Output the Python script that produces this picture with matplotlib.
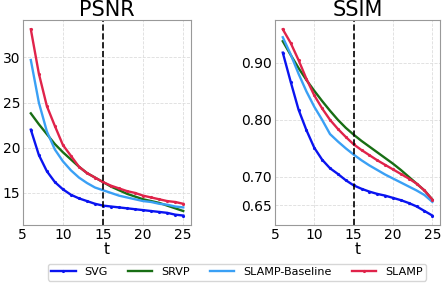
import matplotlib
matplotlib.use('Agg')
import matplotlib.pyplot as plt

t = list(range(6, 26))

psnr_svg = [22.0, 19.2, 17.4, 16.2, 15.4, 14.8, 14.4, 14.1, 13.8, 13.6,
            13.5, 13.4, 13.3, 13.2, 13.1, 13.0, 12.9, 12.8, 12.6, 12.5]
psnr_srvp = [23.8, 22.6, 21.5, 20.4, 19.5, 18.7, 17.9, 17.2, 16.7, 16.2,
             15.7, 15.3, 14.9, 14.6, 14.3, 14.1, 13.9, 13.6, 13.3, 13.0]
psnr_base = [29.7, 25.0, 21.8, 19.8, 18.5, 17.5, 16.7, 16.1, 15.6, 15.3,
             15.0, 14.7, 14.5, 14.3, 14.1, 14.0, 13.8, 13.7, 13.5, 13.4]
psnr_slamp = [33.1, 28.2, 24.6, 22.4, 20.3, 19.1, 17.9, 17.2, 16.7, 16.2,
              15.8, 15.5, 15.2, 15.0, 14.7, 14.5, 14.3, 14.1, 14.0, 13.8]

ssim_svg = [0.918, 0.867, 0.818, 0.782, 0.751, 0.730, 0.715, 0.705, 0.694, 0.685,
            0.679, 0.674, 0.670, 0.667, 0.663, 0.659, 0.654, 0.648, 0.640, 0.632]
ssim_srvp = [0.938, 0.914, 0.891, 0.870, 0.851, 0.833, 0.816, 0.800, 0.786, 0.774,
             0.763, 0.753, 0.743, 0.733, 0.723, 0.712, 0.700, 0.688, 0.676, 0.660]
ssim_base = [0.945, 0.915, 0.881, 0.850, 0.823, 0.800, 0.775, 0.762, 0.750, 0.739,
             0.729, 0.720, 0.712, 0.704, 0.697, 0.690, 0.683, 0.676, 0.668, 0.656]
ssim_slamp = [0.959, 0.935, 0.905, 0.872, 0.843, 0.820, 0.800, 0.784, 0.770, 0.757,
              0.747, 0.738, 0.729, 0.721, 0.713, 0.705, 0.697, 0.688, 0.676, 0.660]

names = ['SVG', 'SRVP', 'SLAMP-Baseline', 'SLAMP']
colors = ['#0a14f0', '#186e14', '#3aa0f5', '#e0234a']
msizes = [2.5, 0, 0, 2.5]

fig = plt.figure(figsize=(4.47, 2.85), dpi=100)
ax1 = fig.add_axes([0.051, 0.211, 0.376, 0.719])
ax2 = fig.add_axes([0.615, 0.211, 0.369, 0.719])

for ax, series, title in [(ax1, [psnr_svg, psnr_srvp, psnr_base, psnr_slamp], 'PSNR'),
                          (ax2, [ssim_svg, ssim_srvp, ssim_base, ssim_slamp], 'SSIM')]:
    for y, name, c, ms in zip(series, names, colors, msizes):
        ax.plot(t, y, color=c, lw=1.7, marker='.', markersize=ms, label=name)
    ax.axvline(15, color='black', ls='--', lw=1.2)
    ax.grid(True, color='#dddddd', ls='--', lw=0.6)
    ax.set_title(title, fontsize=15, pad=2)
    ax.set_xlabel('t', fontsize=11, labelpad=0)
    ax.set_xticks([5, 10, 15, 20, 25])
    ax.tick_params(labelsize=10, length=0, pad=2)
    for s in ax.spines.values():
        s.set_color('#999999')

ax1.set_yticks([15, 20, 25, 30])
ax2.set_yticks([0.65, 0.70, 0.80, 0.90])
ax2.set_yticklabels(['0.65', '0.70', '0.80', '0.90'])

h, l = ax1.get_legend_handles_labels()
fig.legend(h, l, loc='center', bbox_to_anchor=(0.53, 0.045), ncol=4,
           fontsize=8, frameon=True, columnspacing=1.8, handlelength=2.2,
           borderpad=0.3, edgecolor='#cccccc')

plt.savefig('out.png', dpi=100)
